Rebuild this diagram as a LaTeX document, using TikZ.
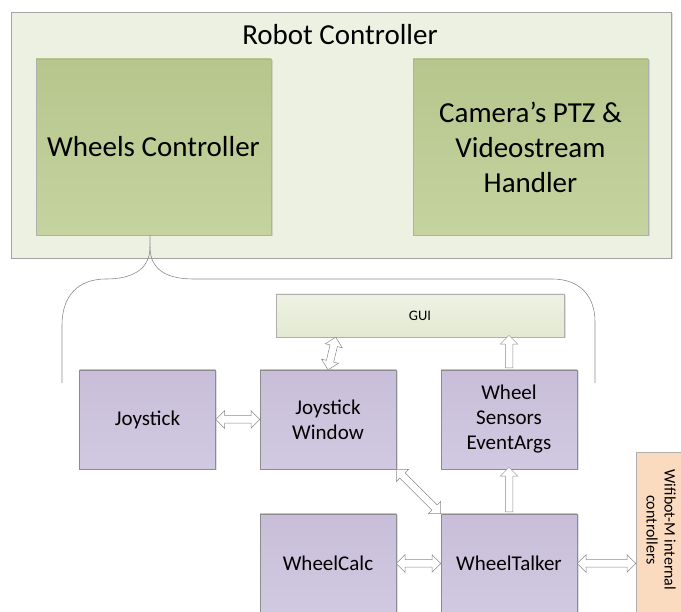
\documentclass[tikz,border=0pt]{standalone}
\usepackage{fontspec}
\setmainfont{Carlito}
\usetikzlibrary{positioning,calc,shapes.arrows,shadows}

\definecolor{outerfill}{RGB}{236,241,226}
\definecolor{greentop}{RGB}{183,198,140}
\definecolor{greenbot}{RGB}{197,211,160}
\definecolor{guitop}{RGB}{238,242,228}
\definecolor{guibot}{RGB}{226,233,210}
\definecolor{purptop}{RGB}{200,190,217}
\definecolor{purpbot}{RGB}{209,201,225}
\definecolor{wififill}{RGB}{251,219,192}
\definecolor{edgegray}{RGB}{140,140,140}

\tikzset{
  shadowed/.style={drop shadow={opacity=0.25, shadow xshift=1.5pt, shadow yshift=-1.5pt}},
  outerbox/.style={draw=edgegray!80, line width=0.6pt, fill=outerfill, shadowed},
  ctrlbox/.style={draw=edgegray!70, line width=0.5pt, top color=greentop, bottom color=greenbot,
    minimum width=235, minimum height=176, align=center, font=\fontsize{29}{35}\selectfont, shadowed},
  guibox/.style={draw=edgegray!70, line width=0.5pt, top color=guitop, bottom color=guibot,
    minimum width=288, minimum height=43, font=\fontsize{14.5}{16}\selectfont, shadowed},
  classbox/.style={draw=edgegray, line width=0.5pt, top color=purptop, bottom color=purpbot,
    minimum width=136, minimum height=99, align=center, font=\fontsize{21}{25}\selectfont, shadowed},
  wifibox/.style={draw=edgegray!70, line width=0.5pt, fill=wififill, minimum width=54, minimum height=188},
  blkarr/.style={draw=edgegray, line width=0.5pt, fill=white, inner xsep=0pt, inner ysep=3.5pt,
    double arrow head extend=5pt, single arrow head extend=5pt},
  bracket/.style={draw=edgegray, line width=0.6pt},
}

% block arrow from one node anchor to another
\newcommand{\blkarrow}[3][double arrow]{%
  \path let \p1=(#2), \p2=(#3),
    \n1={veclen(\x2-\x1,\y2-\y1)}, \n2={atan2(\y2-\y1,\x2-\x1)} in
    node[blkarr, #1, minimum height=\n1, rotate=\n2] at ($(#2)!0.5!(#3)$) {};}

\begin{document}
\begin{tikzpicture}[x=1pt,y=-1pt]
  \useasboundingbox (0,0) rectangle (681,612);
  \clip (0,0) rectangle (681,612);

  \node[outerbox, minimum width=660, minimum height=246] (robot) at (341,135) {};
  \node[font=\fontsize{29}{33}\selectfont] (robotlbl) at (340,35) {Robot Controller};
  \node[ctrlbox] (wheels) at (153.5,147) {Wheels Controller};
  \node[ctrlbox] (camera) at (530.5,147) {Camera’s PTZ \&\\Videostream\\Handler};

  % bracket under the wheels controller
  \coordinate (brtip) at (150,247);
  \coordinate (brleft) at (62,383);
  \coordinate (brright) at (595,383);
  \draw[bracket] (wheels.south -| brtip) -- (brtip)
    .. controls (150,272) and (128,279) .. (106,279)
    .. controls (78,279) and (62,296) .. (62,325) -- (brleft);
  \draw[bracket] (brtip)
    .. controls (150,272) and (170,279) .. (194,279) -- (552,279)
    .. controls (580,279) and (595,296) .. (595,322) -- (brright);

  \node[guibox] (gui) at (420,315.5) {GUI};

  \foreach \nm/\x/\y/\txt in {joy/147.5/419.5/Joystick,
      jwin/328/419.5/{Joystick\\Window},
      sensors/509/419.5/{Wheel\\Sensors\\EventArgs},
      calc/328/563.5/WheelCalc,
      talker/509/563.5/WheelTalker}
    \node[classbox] (\nm) at (\x,\y) {\txt};

  \node[wifibox] (wifi) at (663,546) {};
  \node[rotate=-90, align=center, font=\fontsize{16}{18}\selectfont] (wifilbl) at (661,530)
    {Wifibot-M internal\\controllers};

  \coordinate (guijw) at ($(gui.south west)+(60,0)$);
  \blkarrow{joy.east}{jwin.west}
  \blkarrow{jwin.north}{guijw}
  \blkarrow[single arrow]{sensors.north}{sensors.north |- gui.south}
  \blkarrow[single arrow]{talker.north}{sensors.south}
  \blkarrow{jwin.south east}{talker.north west}
  \blkarrow{calc.east}{talker.west}
  \blkarrow{talker.east}{talker.east -| wifi.west}
\end{tikzpicture}
\end{document}
